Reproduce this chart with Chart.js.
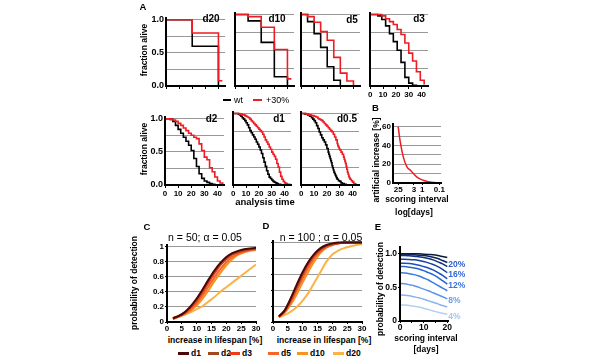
<!DOCTYPE html>
<html>
<head>
<meta charset="utf-8">
<script src="https://cdn.jsdelivr.net/npm/chart.js@4.4.0/dist/chart.umd.min.js"></script>
<style>
  body { margin: 0; width: 600px; height: 360px; position: relative; overflow: hidden; background: #fff;
         font-family: "Liberation Sans", Arial, sans-serif; }
  canvas { position: absolute; }
  .tx { position: absolute; white-space: nowrap; line-height: 1; color: #000; }
  .bar { position: absolute; }
</style>
</head>
<body>
<script>
// ---------- panel A: survival, scored every N days ----------
const aNames = ['d20', 'd10', 'd5', 'd3', 'd2', 'd1', 'd0.5'];
const aXTicks = [0, 10, 20, 30, 40];
const aYTicks = [0, 0.25, 0.5, 0.75, 1];
const seriesNames = ['wt', '+30%'];
const seriesColors = ['#000000', '#ee1c24'];

const tD20 = [0, 20, 40, 43];
const wtD20 = [1, 0.6, 0, 0];
const plD20 = [1, 0.8, 0.08, 0.08];

const tD10 = [0, 10, 20, 30, 40, 43];
const wtD10 = [1, 0.91, 0.61, 0.13, 0, 0];
const plD10 = [1, 0.97, 0.82, 0.51, 0.1, 0.1];

const tD5wt = [0, 5, 10, 15, 20, 25, 30];
const wtD5 = [1, 0.9, 0.73, 0.54, 0.27, 0.08, 0];
const tD5pl = [0, 5, 10, 15, 20, 25, 30, 35, 40];
const plD5 = [1, 0.97, 0.89, 0.76, 0.64, 0.4, 0.18, 0.07, 0];

const tD3 = [0, 3, 6, 9, 12, 15, 18, 21, 24, 27, 30, 33, 36, 39, 42];
const wtD3 = [1, 1, 0.98, 0.93, 0.84, 0.73, 0.62, 0.5, 0.33, 0.12, 0.04, 0.01, 0, 0, 0];
const plD3 = [1, 1, 1, 0.98, 0.94, 0.9, 0.86, 0.79, 0.72, 0.6, 0.46, 0.35, 0.2, 0.08, 0.02];

const tD2 = [0, 2, 4, 6, 8, 10, 12, 14, 16, 18, 20, 22, 24, 26, 28, 30, 32, 34, 36, 38, 40, 42, 44];
const wtD2 = [1, 1, 0.99, 0.96, 0.9, 0.84, 0.78, 0.72, 0.66, 0.6, 0.52, 0.4, 0.28, 0.17, 0.1, 0.06, 0.04, 0.02, 0.01, 0, 0, 0, 0];
const plD2 = [1, 1, 0.99, 0.98, 0.96, 0.93, 0.9, 0.86, 0.82, 0.78, 0.75, 0.72, 0.7, 0.62, 0.52, 0.42, 0.38, 0.26, 0.2, 0.12, 0.06, 0.03, 0.01];

const tD1 = [0, 1, 2, 3, 4, 5, 6, 7, 8, 9, 10, 11, 12, 13, 14, 15, 16, 17, 18, 19, 20, 21, 22,
             23, 24, 25, 26, 27, 28, 29, 30, 31, 32, 33, 34, 35, 36, 37, 38, 39, 40, 41, 42, 43, 44];
const wtD1 = [1, 1, 1, 1, 0.99, 0.98, 0.96, 0.94, 0.92, 0.9, 0.87, 0.84, 0.8, 0.76, 0.73, 0.7, 0.67, 0.64, 0.6, 0.57, 0.53, 0.49, 0.44,
              0.38, 0.32, 0.26, 0.2, 0.15, 0.11, 0.09, 0.07, 0.05, 0.04, 0.03, 0.02, 0.01, 0.01, 0, 0, 0, 0, 0, 0, 0, 0];
const plD1 = [1, 1, 1, 1, 1, 0.99, 0.99, 0.98, 0.98, 0.97, 0.96, 0.95, 0.94, 0.92, 0.9, 0.88, 0.86, 0.84, 0.82, 0.8, 0.78, 0.76, 0.74,
              0.71, 0.67, 0.63, 0.6, 0.57, 0.53, 0.5, 0.46, 0.43, 0.4, 0.36, 0.3, 0.25, 0.18, 0.12, 0.08, 0.05, 0.03, 0.02, 0.01, 0.01, 0];

const tHalfWt = [0, 3, 5, 6.5, 8, 9, 10, 11, 12, 13, 14, 15, 16, 17, 18, 19, 20, 21, 21.5, 22, 22.5, 23, 23.5,
                 24, 24.5, 25, 25.5, 26, 26.5, 27, 27.5, 28, 29, 30, 31, 32, 33.5, 35];
const wtHalf = [1, 0.99, 0.98, 0.96, 0.94, 0.92, 0.9, 0.87, 0.83, 0.79, 0.74, 0.7, 0.66, 0.63, 0.6, 0.56, 0.51, 0.46, 0.43, 0.4, 0.37, 0.34, 0.31,
                0.27, 0.24, 0.21, 0.18, 0.16, 0.14, 0.12, 0.1, 0.08, 0.06, 0.05, 0.03, 0.02, 0.01, 0];
const tHalfPl = [0, 4, 6, 8, 10, 11.5, 13, 14, 15, 16, 17, 18, 19, 20, 21, 22, 23, 24, 25, 26, 27, 28, 28.5, 29, 29.5,
                 30, 31, 32, 33, 33.5, 34, 34.5, 35, 35.5, 36, 36.5, 37, 37.5, 38, 39, 40, 41, 42, 43];
const plHalf = [1, 0.99, 0.98, 0.97, 0.96, 0.95, 0.93, 0.92, 0.91, 0.9, 0.88, 0.86, 0.84, 0.82, 0.8, 0.78, 0.76, 0.74, 0.71, 0.67, 0.63, 0.58, 0.55, 0.53, 0.51,
                0.49, 0.46, 0.43, 0.39, 0.36, 0.33, 0.3, 0.26, 0.22, 0.18, 0.15, 0.12, 0.1, 0.08, 0.06, 0.04, 0.02, 0.01, 0];

// ---------- panel B: artificial increase vs scoring interval ----------
const bInterval = [25, 19, 12.5, 8, 4.4, 2, 0.86, 0.28, 0.1];
const bIncrease = [60, 44, 27.5, 17.7, 12.8, 6.2, 2.9, 0.7, 0.1];
const bXTicks = [25, 3, 1, 0.1];
const bYTicks = [0, 10, 20, 30, 40, 50, 60];

// ---------- panels C, D: power vs increase in lifespan ----------
const cdIncrease = [2, 4, 6, 8, 10, 12, 14, 16, 18, 20, 22, 24, 26, 28, 30];
const cdNames = ['d1', 'd2', 'd3', 'd5', 'd10', 'd20'];
const cdColors = ['#4a0808', '#a3481c', '#ed3b1c', '#f4662a', '#f7931e', '#fbb347'];
const cdXTicks = [0, 5, 10, 15, 20, 25, 30];
const cdYTicks = [0, 0.2, 0.4, 0.6, 0.8, 1];

const cN50 = [
  [0.05, 0.08, 0.13, 0.21, 0.31, 0.43, 0.56, 0.68, 0.78, 0.86, 0.91, 0.94, 0.96, 0.97, 0.98],
  [0.05, 0.08, 0.13, 0.2, 0.3, 0.42, 0.55, 0.67, 0.77, 0.85, 0.9, 0.93, 0.95, 0.96, 0.97],
  [0.05, 0.08, 0.12, 0.19, 0.28, 0.39, 0.52, 0.64, 0.75, 0.83, 0.89, 0.92, 0.94, 0.96, 0.97],
  [0.04, 0.07, 0.11, 0.17, 0.25, 0.35, 0.47, 0.59, 0.7, 0.79, 0.86, 0.9, 0.93, 0.95, 0.96],
  [0.04, 0.07, 0.1, 0.15, 0.22, 0.31, 0.42, 0.54, 0.65, 0.75, 0.83, 0.89, 0.92, 0.94, 0.95],
  [0.05, 0.08, 0.1, 0.13, 0.17, 0.21, 0.27, 0.33, 0.4, 0.46, 0.52, 0.58, 0.64, 0.7, 0.76]
];
const dN100 = [
  [0.07, 0.15, 0.3, 0.47, 0.63, 0.76, 0.86, 0.93, 0.97, 0.99, 1, 1, 1, 1, 1],
  [0.07, 0.15, 0.29, 0.45, 0.61, 0.75, 0.85, 0.92, 0.96, 0.98, 0.99, 1, 1, 1, 1],
  [0.07, 0.14, 0.27, 0.43, 0.59, 0.73, 0.84, 0.91, 0.96, 0.98, 0.99, 1, 1, 1, 1],
  [0.06, 0.13, 0.25, 0.4, 0.55, 0.69, 0.81, 0.89, 0.94, 0.97, 0.99, 1, 1, 1, 1],
  [0.06, 0.12, 0.22, 0.35, 0.5, 0.64, 0.77, 0.87, 0.94, 0.97, 0.99, 1, 1, 1, 1],
  [0.06, 0.09, 0.13, 0.19, 0.27, 0.37, 0.5, 0.63, 0.76, 0.85, 0.9, 0.93, 0.95, 0.97, 0.98]
];

// ---------- panel E: power vs scoring interval, per effect size ----------
const eInterval = [0, 2, 4, 6, 8, 10, 12, 14, 16, 18, 20];
const eEffects = ['4%', '6%', '8%', '10%', '12%', '14%', '16%', '18%', '20%', '22%'];
const eColors = ['#b4cff3', '#8ab3ee', '#5e95e8', '#3b7be2', '#2463d6', '#1a4fc0', '#1540a0', '#12327d', '#0f2557', '#0c1a35'];
const ePower = [
  [0.24, 0.24, 0.23, 0.22, 0.21, 0.19, 0.17, 0.15, 0.13, 0.115, 0.1],
  [0.39, 0.385, 0.375, 0.36, 0.345, 0.325, 0.3, 0.28, 0.255, 0.23, 0.21],
  [0.56, 0.555, 0.54, 0.525, 0.5, 0.475, 0.45, 0.42, 0.39, 0.36, 0.33],
  [0.72, 0.715, 0.705, 0.69, 0.67, 0.64, 0.61, 0.57, 0.53, 0.49, 0.45],
  [0.81, 0.81, 0.8, 0.79, 0.775, 0.75, 0.72, 0.69, 0.65, 0.6, 0.55],
  [0.86, 0.86, 0.855, 0.845, 0.83, 0.81, 0.79, 0.76, 0.72, 0.68, 0.63],
  [0.92, 0.92, 0.915, 0.91, 0.9, 0.885, 0.865, 0.84, 0.81, 0.77, 0.72],
  [0.975, 0.975, 0.97, 0.965, 0.955, 0.945, 0.93, 0.91, 0.88, 0.85, 0.81],
  [0.99, 0.99, 0.99, 0.985, 0.98, 0.975, 0.965, 0.95, 0.93, 0.9, 0.87],
  [1, 1, 1, 1, 1, 0.995, 0.99, 0.985, 0.975, 0.96, 0.945]
];
const eLabelled = [8, 6, 4, 2, 0];
const eLabelColors = ['#2f5fc8', '#3468d2', '#3a74dd', '#6f9fe9', '#a9c5f2'];
const eXTicks = [0, 5, 10, 15, 20];
const eYTicks = [0, 0.5, 1];

// ---------- helpers ----------
Chart.defaults.font.family = '"Liberation Sans", Arial, sans-serif';
Chart.defaults.font.weight = 'bold';
Chart.defaults.color = '#000';

const pts = (xs, ys) => xs.map((x, i) => ({ x, y: ys[i] }));

function axis(o) {
  return {
    type: o.type || 'linear', min: o.min, max: o.max, reverse: !!o.reverse,
    afterBuildTicks: s => { s.ticks = o.ticks.map(v => ({ value: v })); },
    grid: { drawOnChartArea: !!o.grid, color: o.grid || '#000', lineWidth: 1,
            drawTicks: !!o.tick, tickLength: o.tick || 0, tickColor: '#000', tickWidth: 1 },
    border: { display: true, color: '#000', width: 2, z: 1 },
    ticks: { display: o.labels !== false, padding: o.pad == null ? 1 : o.pad, autoSkip: false, maxRotation: 0,
             font: { size: o.fs || 8, weight: 'bold' }, color: '#000', callback: o.fmt || (v => String(v)) }
  };
}

function makeChart(area, m, datasets, xs, ys, plugins) {
  const w = area.r - area.l + m.l + m.r, h = area.b - area.t + m.t + m.b;
  const c = document.createElement('canvas');
  c.width = w; c.height = h;
  Object.assign(c.style, { left: (area.l - m.l) + 'px', top: (area.t - m.t) + 'px', width: w + 'px', height: h + 'px' });
  document.body.appendChild(c);
  xs.afterFit = s => { s.height = m.b; };
  ys.afterFit = s => { s.width = m.l; };
  return new Chart(c, {
    type: 'line',
    data: { datasets },
    options: {
      responsive: false, devicePixelRatio: 1, animation: false,
      layout: { padding: { top: m.t, right: m.r, left: 0, bottom: 0 }, autoPadding: false },
      elements: { point: { radius: 0 } },
      scales: { x: xs, y: ys },
      plugins: { legend: { display: false }, tooltip: { enabled: false } }
    },
    plugins: plugins || []
  });
}

function txt(s, x, y, o = {}) {
  const d = document.createElement('div');
  d.className = 'tx';
  d.textContent = s;
  d.style.left = x + 'px';
  d.style.top = y + 'px';
  d.style.fontSize = (o.fs || 9) + 'px';
  d.style.fontWeight = o.w || 'bold';
  if (o.color) d.style.color = o.color;
  const tr = o.left ? 'translate(0,-50%)' : 'translate(-50%,-50%)';
  d.style.transform = tr + (o.rot ? ' rotate(-90deg)' : '');
  document.body.appendChild(d);
}

function bar(x, y, w, h, color) {
  const d = document.createElement('div');
  d.className = 'bar';
  Object.assign(d.style, { left: x + 'px', top: (y - h / 2) + 'px', width: w + 'px', height: h + 'px', background: color });
  document.body.appendChild(d);
}

// ---------- panel A ----------
const aData = [
  [tD20, wtD20, tD20, plD20], [tD10, wtD10, tD10, plD10], [tD5wt, wtD5, tD5pl, plD5], [tD3, wtD3, tD3, plD3],
  [tD2, wtD2, tD2, plD2], [tD1, wtD1, tD1, plD1], [tHalfWt, wtHalf, tHalfPl, plHalf]
];
const aAreas = [
  { l: 166, t: 13, r: 225, b: 86 }, { l: 235, t: 13, r: 294, b: 86 }, { l: 301, t: 13, r: 360, b: 86 }, { l: 369, t: 13, r: 428, b: 86 },
  { l: 165, t: 112, r: 224, b: 185 }, { l: 232, t: 112, r: 291, b: 185 }, { l: 300, t: 112, r: 359, b: 185 }
];
const aTags = [[211, 19], [277, 19], [352, 19.5], [419, 19], [211.5, 119], [279, 119], [347, 119]];

aData.forEach((d, i) => {
  const firstCol = i === 0 || i === 4;
  const showX = i >= 3;
  const datasets = [
    { data: pts(d[2], d[3]), borderColor: seriesColors[1], borderWidth: 1.6, stepped: true },
    { data: pts(d[0], d[1]), borderColor: seriesColors[0], borderWidth: 1.6, stepped: true }
  ];
  const xs = axis({ min: 0, max: 45, ticks: aXTicks, tick: 3, labels: showX, pad: 1, fs: 8 });
  const ys = axis({ min: 0, max: 1.02, ticks: aYTicks, grid: '#999', labels: firstCol, pad: 2, fs: 9,
                    fmt: v => (v === 0 || v === 0.5 || v === 1) ? v.toFixed(1) : '' });
  makeChart(aAreas[i], { l: firstCol ? 20 : 2, r: 4, t: 2, b: 13 }, datasets, xs, ys);
  txt(aNames[i], aTags[i][0], aTags[i][1], { fs: 10 });
});

txt('A', 143, 7, { fs: 9.5 });
txt('fraction alive', 144, 49.5, { fs: 8.5, rot: true });
txt('fraction alive', 144, 149, { fs: 8.5, rot: true });
txt('analysis time', 265, 201.5, { fs: 9.5 });
bar(223, 100, 8, 2.5, seriesColors[0]);
txt(seriesNames[0], 234, 100, { fs: 9, w: 'normal', left: true });
bar(253, 100, 9, 2.5, seriesColors[1]);
txt(seriesNames[1], 266, 100, { fs: 9, w: 'normal', left: true });

// ---------- panel B ----------
makeChart({ l: 393, t: 119, r: 441, b: 183 }, { l: 17, r: 6, t: 2, b: 12 },
  [{ data: pts(bInterval, bIncrease), borderColor: '#ee1c24', borderWidth: 1.5, cubicInterpolationMode: 'monotone' }],
  axis({ type: 'logarithmic', min: 0.08, max: 50, reverse: true, ticks: bXTicks, tick: 2, pad: 0, fs: 8 }),
  axis({ min: 0, max: 63, ticks: bYTicks, grid: '#999', pad: 2, fs: 8, fmt: v => (v % 20 === 0 ? String(v) : '') }));
txt('B', 375.5, 107.5, { fs: 9.5 });
txt('artificial increase [%]', 376, 160, { fs: 8.5, rot: true });
txt('scoring interval', 417, 198.5, { fs: 8.5 });
txt('log[days]', 414, 211.5, { fs: 8.5 });

// ---------- panels C and D ----------
function powerPanel(area, values, showY) {
  const datasets = values.map((v, i) => ({
    data: pts(cdIncrease, v), borderColor: cdColors[i], borderWidth: 2, cubicInterpolationMode: 'monotone'
  }));
  makeChart(area, { l: showY ? 20 : 4, r: 6, t: 2, b: 12 }, datasets,
    axis({ min: 0, max: 30, ticks: cdXTicks, tick: 2, pad: 0, fs: 8 }),
    axis({ min: 0, max: 1.02, ticks: cdYTicks, grid: '#999', tick: 2, labels: showY, pad: 1, fs: 8 }));
}
powerPanel({ l: 167, t: 241, r: 256, b: 322 }, cN50, true);
powerPanel({ l: 273, t: 241, r: 362, b: 322 }, dN100, false);

txt('C', 147, 227, { fs: 9.5 });
txt('D', 266, 226, { fs: 9.5 });
txt('n = 50; \u03b1 = 0.05', 205, 237, { fs: 10.5, w: 'normal' });
txt('n = 100 ; \u03b1 = 0.05', 321, 237, { fs: 10.5, w: 'normal' });
txt('probability of detection', 134, 283, { fs: 8.5, rot: true });
txt('increase in lifespan [%]', 215, 340, { fs: 8.5 });
txt('increase in lifespan [%]', 324, 340, { fs: 8.5 });
const legX = [178, 208, 229, 268, 297, 333];
cdNames.forEach((n, i) => {
  bar(legX[i], 353, 11, 3, cdColors[i]);
  txt(n, legX[i] + 13, 353, { fs: 8.5, left: true });
});

// ---------- panel E ----------
const eLabelPlugin = {
  id: 'endLabels',
  afterDatasetsDraw(chart) {
    const { ctx } = chart;
    const xs = chart.scales.x, ys = chart.scales.y;
    ctx.save();
    ctx.font = 'bold 8.5px "Liberation Sans", Arial, sans-serif';
    ctx.textAlign = 'left';
    ctx.textBaseline = 'middle';
    eLabelled.forEach((k, j) => {
      const row = ePower[k];
      ctx.fillStyle = eLabelColors[j];
      ctx.fillText(eEffects[k], xs.getPixelForValue(eInterval[eInterval.length - 1]) + 1, ys.getPixelForValue(row[row.length - 1]) + 2);
    });
    ctx.restore();
  }
};
makeChart({ l: 400, t: 243, r: 448, b: 321 }, { l: 18, r: 22, t: 2, b: 12 },
  ePower.map((v, i) => ({ data: pts(eInterval, v), borderColor: eColors[i], borderWidth: 1.5, cubicInterpolationMode: 'monotone' })),
  axis({ min: 0, max: 20.3, ticks: eXTicks, tick: 2, pad: 0, fs: 8.5, fmt: v => (v % 10 === 0 ? String(v) : '') }),
  axis({ min: 0, max: 1.1, ticks: eYTicks, tick: 2, pad: 1, fs: 8.5, fmt: v => (v === 1 ? '1.0' : String(v)) }),
  [eLabelPlugin]);
txt('E', 378, 227, { fs: 9.5 });
txt('probability of detection', 380, 289, { fs: 8.5, rot: true });
txt('scoring interval', 426, 337.5, { fs: 8.5 });
txt('[days]', 426, 349, { fs: 8.5 });
</script>
</body>
</html>
